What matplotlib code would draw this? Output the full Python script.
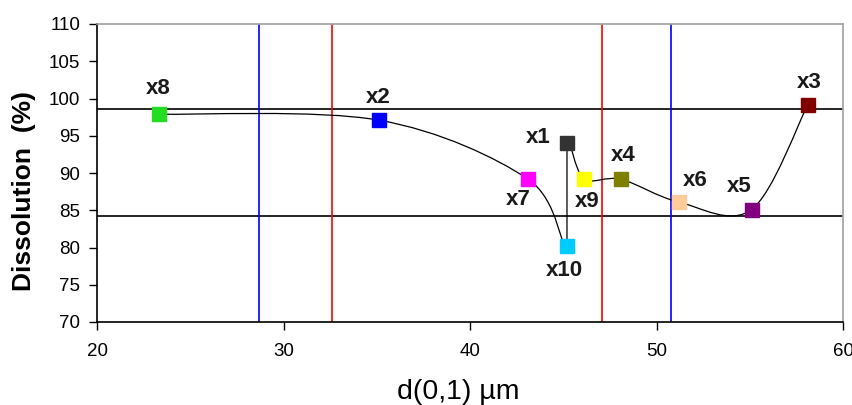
import matplotlib
matplotlib.use("Agg")
import matplotlib.pyplot as plt
from matplotlib.path import Path
from matplotlib.patches import PathPatch

# Data
names = ['x8', 'x2', 'x7', 'x10', 'x1', 'x9', 'x4', 'x6', 'x5', 'x3']
d01 = [23.3, 35.1, 43.1, 45.2, 45.2, 46.1, 48.1, 51.2, 55.1, 58.1]
dissolution = [97.9, 97.1, 89.2, 80.2, 94.0, 89.2, 89.15, 86.1, 85.1, 99.1]
point_colors = ['#22dd22', '#0000ff', '#ff00ff', '#00ccff', '#333333',
                '#ffff00', '#808000', '#ffcc99', '#800080', '#800000']

h_limits = [98.55, 84.2]
v_blue = [28.7, 50.8]
v_red = [32.6, 47.1]

# label offsets in pixels (dx, dy), screen y up
label_offsets = {
    'x8': (0, 26), 'x2': (0, 23), 'x7': (-10, -21), 'x10': (-3, -24),
    'x1': (-29, 6), 'x9': (3, -23), 'x4': (2, 24), 'x6': (16, 22),
    'x5': (-12, 23), 'x3': (2, 23),
}

plt.rcParams['font.family'] = ['Liberation Sans', 'DejaVu Sans']

fig = plt.figure(figsize=(8.53, 4.05), dpi=100)
W, H = 853, 405
ax = fig.add_axes([97 / W, (H - 322) / H, (843 - 97) / W, (322 - 24) / H])

ax.set_xlim(20, 60)
ax.set_ylim(70, 110)
ax.set_xticks(range(20, 61, 10))
ax.set_yticks(range(70, 111, 5))
ax.tick_params(axis='both', direction='out', length=6, width=1,
               labelsize=13.5, colors='black')
ax.tick_params(axis='y', pad=6)
ax.tick_params(axis='x', pad=9)

for s in ['top', 'right']:
    ax.spines[s].set_color('#a0a0a0')
    ax.spines[s].set_linewidth(1.2)
for s in ['left', 'bottom']:
    ax.spines[s].set_color('black')
    ax.spines[s].set_linewidth(1.2)

# reference lines
for y in h_limits:
    ax.axhline(y, color='black', lw=1.2, zorder=1)
for x in v_blue:
    ax.axvline(x, color='#0000ff', lw=1.2, zorder=1)
for x in v_red:
    ax.axvline(x, color='#ff0000', lw=1.2, zorder=1)

# smoothed connecting line (Excel style bezier)
pts = list(zip(d01, dissolution))
n = len(pts)
verts = [pts[0]]
codes = [Path.MOVETO]
for i in range(n - 1):
    p0 = pts[i - 1] if i > 0 else pts[i]
    p1 = pts[i]
    p2 = pts[i + 1]
    p3 = pts[i + 2] if i + 2 < n else pts[i + 1]
    c1 = (p1[0] + (p2[0] - p0[0]) / 6, p1[1] + (p2[1] - p0[1]) / 6)
    c2 = (p2[0] - (p3[0] - p1[0]) / 6, p2[1] - (p3[1] - p1[1]) / 6)
    if names[i] == 'x10' and names[i + 1] == 'x1':
        c1, c2 = p1, p2
    verts += [c1, c2, p2]
    codes += [Path.CURVE4] * 3
ax.add_patch(PathPatch(Path(verts, codes), fill=False, edgecolor='black',
                       lw=0.9, zorder=2))

for name, x, y, c in zip(names, d01, dissolution, point_colors):
    ax.plot([x], [y], marker='s', markersize=10, color=c,
            markeredgecolor=c, linestyle='none', zorder=3)
    dx, dy = label_offsets[name]
    ax.annotate(name, (x, y), xytext=(dx * 0.72, dy * 0.72),
                textcoords='offset points', ha='center', va='center',
                fontsize=16, fontweight='bold', color='#1a1a1a', zorder=4)

fig.text(24 / W, 1 - 191 / H, 'Dissolution  (%)', rotation=90,
         ha='center', va='center', fontsize=19, fontweight='bold')
fig.text(458 / W, 1 - 392 / H, 'd(0,1) \u00b5m', ha='center', va='center',
         fontsize=20.5)

fig.savefig('out.png', dpi=100)
